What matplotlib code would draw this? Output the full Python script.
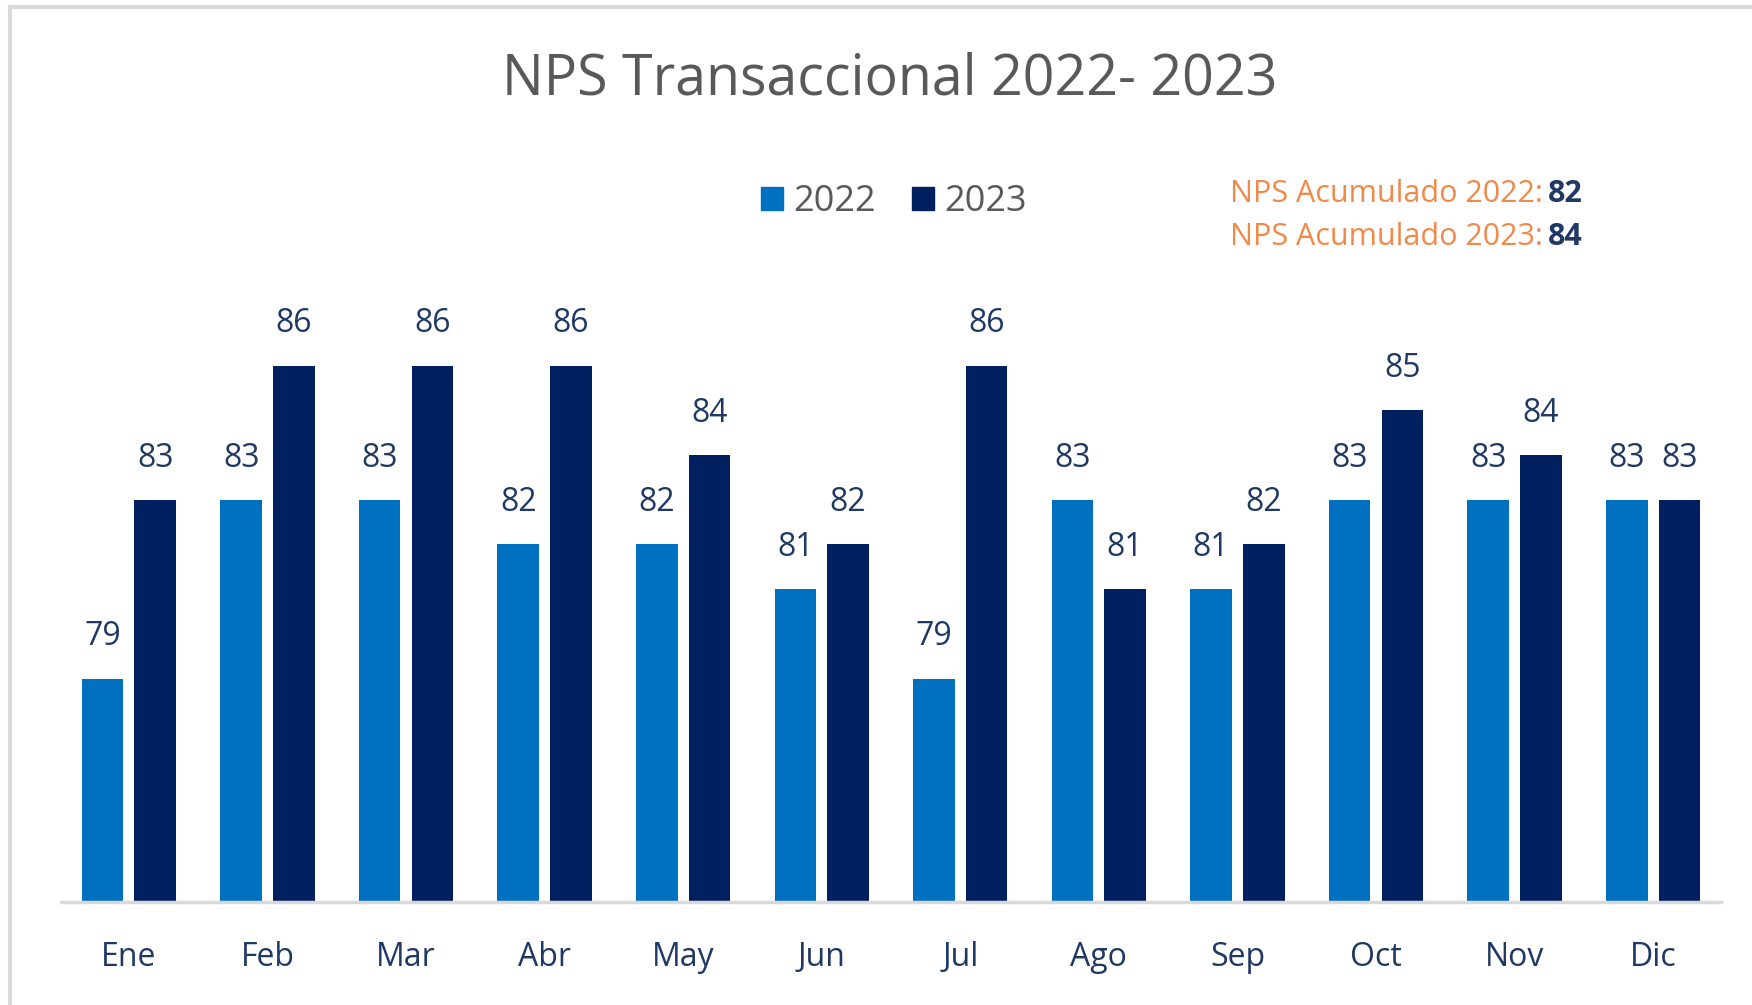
import numpy as np
import matplotlib
matplotlib.use("Agg")
import matplotlib.pyplot as plt
from matplotlib.patches import Patch
from matplotlib.lines import Line2D

months = ['Ene', 'Feb', 'Mar', 'Abr', 'May', 'Jun', 'Jul', 'Ago', 'Sep', 'Oct', 'Nov', 'Dic']
nps_2022 = [79, 83, 83, 82, 82, 81, 79, 83, 81, 83, 83, 83]
nps_2023 = [83, 86, 86, 86, 84, 82, 86, 81, 82, 85, 84, 83]
series_labels = ['2022', '2023']
acumulado = {'2022': 82, '2023': 84}

c22 = '#0070C0'
c23 = '#002060'
navy_txt = '#1F3864'
gray_txt = '#595959'
orange = '#F08A4B'

plt.rcParams['font.family'] = ['Open Sans', 'DejaVu Sans']

W, H = 1752, 1005
fig = plt.figure(figsize=(W / 100, H / 100), dpi=100)

# axes placed in pixel terms of the reference
left_px, right_px, base_px = 61, 1721, 902
ymin, ymax = 74, 88
px_per_unit = 44.7
top_px = base_px - (ymax - ymin) * px_per_unit
ax = fig.add_axes([left_px / W, 1 - base_px / H, (right_px - left_px) / W, (base_px - top_px) / H])

x = np.arange(len(months))
bw = 0.30
off = 0.19
b1 = ax.bar(x - off, nps_2022, bw, bottom=0, color=c22, label=series_labels[0], zorder=2)
b2 = ax.bar(x + off, nps_2023, bw, bottom=0, color=c23, label=series_labels[1], zorder=2)

for bars in (b1, b2):
    for r in bars:
        ax.annotate(f"{int(r.get_height())}", (r.get_x() + r.get_width() / 2, r.get_height()),
                    xytext=(0, 30), textcoords='offset points', ha='center', va='center',
                    fontsize=23, color=navy_txt)

ax.set_ylim(ymin, ymax)
ax.set_xlim(-0.49, len(months) - 0.51)
ax.set_xticks(x)
ax.set_xticklabels(months, fontsize=23, color=navy_txt)
ax.tick_params(axis='x', length=0, pad=28)
ax.set_yticks([])
for s in ['top', 'right', 'left']:
    ax.spines[s].set_visible(False)
ax.spines['bottom'].set_color('#D9D9D9')
ax.spines['bottom'].set_linewidth(2.5)
ax.spines['bottom'].set_zorder(3)

fig.text(890 / W, 1 - 80 / H, 'NPS Transaccional 2022- 2023', ha='center', va='center',
         fontsize=40, color=gray_txt)

handles = [Patch(color=c22), Patch(color=c23)]
fig.legend(handles, series_labels, loc='center', bbox_to_anchor=(894 / W, 1 - 202 / H),
           ncol=2, frameon=False, fontsize=26, handlelength=0.6, handleheight=0.6,
           handletextpad=0.3, columnspacing=1.0, labelcolor=gray_txt)

for i, (yr, val) in enumerate(acumulado.items()):
    yy = 1 - (194 + 43 * i) / H
    fig.text(1543 / W, yy, f'NPS Acumulado {yr}:', ha='right', va='center', fontsize=22, color=orange)
    fig.text(1548 / W, yy, f'{val}', ha='left', va='center', fontsize=22, color=navy_txt,
             fontweight='bold')

# screenshot frame lines
fig.add_artist(Line2D([10 / W, 1], [1 - 7 / H, 1 - 7 / H], color='#D9D9D9', lw=3))
fig.add_artist(Line2D([10 / W, 10 / W], [0, 1 - 7 / H], color='#D9D9D9', lw=3))

fig.savefig('out.png', dpi=100, facecolor='white')
